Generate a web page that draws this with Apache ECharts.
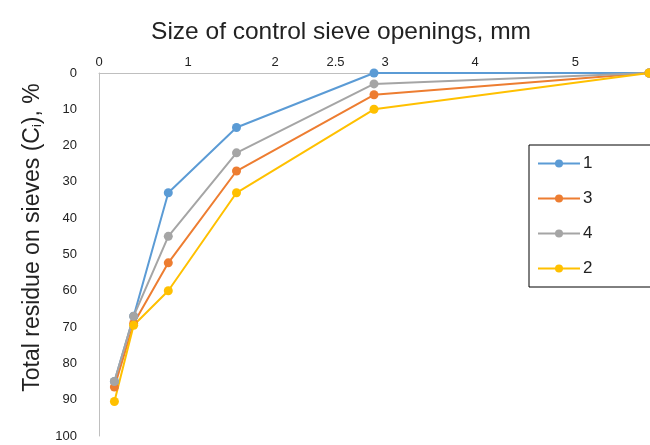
<!DOCTYPE html>
<html><head><meta charset="utf-8">
<script src="https://cdn.jsdelivr.net/npm/echarts@6/dist/echarts.min.js"></script>
<style>html,body{margin:0;padding:0;background:#fff}#c{width:650px;height:445px}</style>
</head><body><div id="c"></div>
<script>
const sieveSizes = [0.14, 0.315, 0.63, 1.25, 2.5, 5];
const series1 = [85, 67, 33, 15, 0, 0];
const series3 = [86.5, 69, 52.3, 27, 6, 0];
const series4 = [85, 67, 45, 22, 3, 0];
const series2 = [90.5, 69.5, 60, 33, 10, 0];
const xTickPositions = [0, 0.81, 1.6, 2.15, 2.6, 3.42, 4.33];
const xTickLabels = ['0', '1', '2', '2.5', '3', '4', '5'];
const yTicks = [0, 10, 20, 30, 40, 50, 60, 70, 80, 90, 100];

const chart = echarts.init(document.getElementById('c'));
const font = 'Liberation Sans, Arial, sans-serif';
function mk(name, vals, color) {
  return {
    name, type: 'line', data: sieveSizes.map((x, i) => [x, vals[i]]),
    symbol: 'circle', symbolSize: 9,
    lineStyle: { width: 2, color }, itemStyle: { color },
    animation: false
  };
}
chart.setOption({
  animation: false,
  title: {
    text: 'Size of control sieve openings, mm', left: 336, top: 15, textAlign: 'center',
    textStyle: { fontFamily: font, fontSize: 24.5, fontWeight: 'normal', color: '#222' }
  },
  grid: { left: 99, top: 73, right: 1, bottom: 9 },
  legend: {
    orient: 'vertical', left: 529, top: 145,
    data: ['1', '3', '4', '2'],
    itemWidth: 42, itemHeight: 10, itemGap: 18,
    borderColor: '#000', borderWidth: 1, borderRadius: 0,
    padding: [10, 100, 10, 8],
    textStyle: { fontFamily: font, fontSize: 17, color: '#222', padding: [0, 0, 0, -2] }
  },
  xAxis: {
    type: 'value', position: 'top', min: 0, max: 5,
    axisLine: { show: true, lineStyle: { color: '#bfbfbf', width: 1 } },
    axisTick: { show: false }, splitLine: { show: false },
    axisLabel: {
      customValues: xTickPositions, margin: 4,
      formatter: v => { const i = xTickPositions.findIndex(p => Math.abs(p - v) < 1e-6); return i >= 0 ? xTickLabels[i] : ''; },
      fontFamily: font, fontSize: 13, color: '#222'
    }
  },
  yAxis: {
    type: 'value', inverse: true, min: 0, max: 100, interval: 10,
    axisLine: { show: true, lineStyle: { color: '#bfbfbf', width: 1 } },
    axisTick: { show: false }, splitLine: { show: false },
    axisLabel: {
      customValues: yTicks, margin: 22, fontFamily: font, fontSize: 13, color: '#222'
    },
    name: '{a|Total residue on sieves (C}{s|i}{a|), %}',
    nameLocation: 'middle', nameRotate: 90, nameGap: 55,
    nameTextStyle: {
      padding: [0, 0, 0, 34],
      rich: {
        a: { fontFamily: font, fontSize: 23, color: '#222' },
        s: { fontFamily: font, fontSize: 13, color: '#222', verticalAlign: 'bottom', padding: [8, 0, 0, 0] }
      }
    }
  },
  series: [
    mk('1', series1, '#5B9BD5'),
    mk('3', series3, '#ED7D31'),
    mk('4', series4, '#A5A5A5'),
    mk('2', series2, '#FFC000')
  ]
});
</script></body></html>
